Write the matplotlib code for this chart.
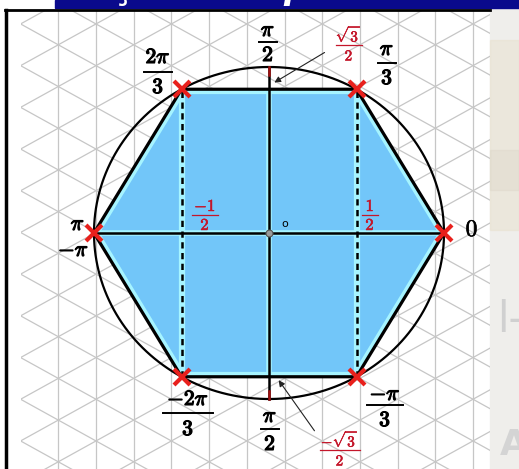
import numpy as np
import matplotlib
matplotlib.use("Agg")
import matplotlib.pyplot as plt
import matplotlib.patheffects as pe
from matplotlib.patches import Rectangle, Polygon

plt.rcParams['mathtext.fontset'] = 'cm'

# --- data: the six points on the unit circle (degrees) ---
angles_deg = [0, 60, 120, 180, 240, 300]
angle_labels = [(r"$0$", None), (r"$\pi$", r"$3$"), (r"$2\pi$", r"$3$"), (r"$\pi$", None),
                (r"$-2\pi$", r"$3$"), (r"$-\pi$", r"$3$")]
dash_x = [-0.5, 0.5]            # cos of 120 / 60 deg
red_labels = [(r"$\sqrt{\mathit{3}}$", r"$\mathit{2}$"), (r"$-\sqrt{\mathit{3}}$", r"$\mathit{2}$"),
              (r"$-\mathit{1}$", r"$\mathit{2}$"), (r"$\mathit{1}$", r"$\mathit{2}$")]

# picture geometry (pixels) - circle a bit squashed in the screenshot
W, H = 519, 469
cx, cy = 269, 233
sx, sy = 175, 166

fig = plt.figure(figsize=(W / 100, H / 100), dpi=100)
bg = fig.add_axes([0, 0, 1, 1])
bg.set_xlim(0, W)
bg.set_ylim(H, 0)
bg.axis('off')

ax = fig.add_axes([0, 0, 1, 1])
ax.set_xlim(-cx / sx, (W - cx) / sx)
ax.set_ylim((cy - H) / sy, cy / sy)
ax.axis('off')
ax.patch.set_alpha(0)

# background bits: blurry right strip, banner, border
bg.add_patch(Rectangle((490, 8), W - 490, H, color='#efeeeb', zorder=1))
bg.add_patch(Rectangle((490, 40), W - 490, 190, color='#e8e1cf', alpha=0.5, zorder=1))
bg.add_patch(Rectangle((490, 150), W - 490, 40, color='#dcd6c8', alpha=0.4, zorder=1))
bg.text(497, 320, "l-", color='#d0d0d0', fontsize=30, va='center', zorder=2)
bg.text(500, 445, "A", color='#d4d4d4', fontsize=26, fontweight='bold', va='center', zorder=2)
bg.add_patch(Rectangle((55, 0), W - 55, 8, color='#0a0a8c', zorder=3))
for xx, word, ha in [(180, "Rota\u00e7\u00e3o", 'right'), (283, "per\u00edodo", 'left'),
                     (478, "trigonom\u00e9trico", 'left')]:
    bg.text(xx, -1, word, color='white', fontsize=24, fontweight='bold', style='italic',
            ha=ha, va='baseline', zorder=4, clip_on=True)
bg.plot([6, 6], [10, H], color='black', lw=2.5, zorder=5)
bg.plot([5, 490], [10, 10], color='black', lw=2, zorder=5)

# isometric grid
grid_box = Rectangle((21, 11), 469, H, transform=bg.transData)
x0, step, hstep = 58.3, 37.7, 41.7
slope = hstep / 2 / step
vlines = [x0 + step * k for k in range(-1, 12) if 21 < x0 + step * k < 490]
diag_y0 = [3.1 + hstep * n for n in range(-20, 25)]


def draw_grid(target, color, lw, clip):
    segs = []
    for xv in vlines:
        segs.append(([xv, xv], [0, H]))
    for y0 in diag_y0:
        segs.append(([0, W], [y0 + slope * (0 - x0), y0 + slope * (W - x0)]))
        segs.append(([0, W], [y0 - slope * (0 - x0), y0 - slope * (W - x0)]))
    for xs_, ys_ in segs:
        ln, = target.plot(xs_, ys_, color=color, lw=lw, transform=bg.transData, zorder=1)
        ln.set_clip_path(clip)


draw_grid(bg, '#c6c6c6', 0.9, grid_box)

# circle and hexagon
t = np.radians(angles_deg)
hx, hy = np.cos(t), np.sin(t)
hexagon = Polygon(np.column_stack([hx, hy]), closed=True, facecolor='#72c6f9',
                  edgecolor='none', zorder=2)
ax.add_patch(hexagon)
clip_hex = Polygon(np.column_stack([hx, hy]), closed=True, transform=ax.transData)
draw_grid(ax, '#50aaec', 0.8, clip_hex)

# cyan glow inside the hexagon
glow = '#a6f4ff'
ln, = ax.plot(np.append(hx, hx[0]), np.append(hy, hy[0]), color=glow, lw=7, zorder=3)
ln.set_clip_path(clip_hex)
for xd in dash_x:
    ax.plot([xd, xd], [-np.sin(np.pi / 3), np.sin(np.pi / 3)], color=glow, lw=4.5, zorder=3)
ln, = ax.plot([0, 0], [-1, 1], color=glow, lw=4, zorder=3)
ln.set_clip_path(clip_hex)
ln, = ax.plot([-1, 1], [0, 0], color=glow, lw=4, zorder=3)
ln.set_clip_path(clip_hex)

th = np.linspace(0, 2 * np.pi, 400)
ax.plot(np.cos(th), np.sin(th), color='black', lw=1.6, zorder=4)
ax.plot(np.append(hx, hx[0]), np.append(hy, hy[0]), color='black', lw=2.3, zorder=5)
for xd in dash_x:
    ax.plot([xd, xd], [-np.sin(np.pi / 3), np.sin(np.pi / 3)], color='black', lw=1.8,
            dashes=(2.5, 1.8), zorder=5)
ax.plot([0, 0], [-1, 1], color='black', lw=1.8, zorder=5)
ax.plot([-1, 1], [0, 0], color='black', lw=1.8, zorder=5)
ax.plot([0, 0], [0.95, 1.0], color='#a01010', lw=1.8, zorder=6)
ax.plot([0, 0], [-1.0, -0.95], color='#a01010', lw=1.8, zorder=6)
ax.plot(hx, hy, 'x', color='#e8201c', ms=12, mew=3, zorder=7)
ax.plot([0], [0], 'o', ms=5, mfc='#9a9a9a', mec='#555555', mew=0.8, zorder=7)
ax.text(285, 224, "o", transform=bg.transData, fontsize=8, ha='center', va='center', zorder=8)

# arrows to +-sqrt(3)/2
ax.annotate("", xy=(0.017, 0.898), xytext=(0.331, 1.096),
            arrowprops=dict(arrowstyle='-|>', lw=0.8, color='#222222', mutation_scale=9), zorder=8)
ax.annotate("", xy=(0.046, -0.873), xytext=(0.269, -1.205),
            arrowprops=dict(arrowstyle='-|>', lw=0.8, color='#222222', mutation_scale=9), zorder=8)

bold = [pe.withStroke(linewidth=0.9, foreground='black')]


def frac(x, y_num, y_bar, y_den, half, num, den, size=15.5, color='black', effects=bold,
         bar_lw=1.4):
    kw = dict(transform=bg.transData, ha='center', va='center', fontsize=size, color=color,
              zorder=9)
    ax.text(x, y_num, num, path_effects=effects, **kw)
    ax.text(x, y_den, den, path_effects=effects, **kw)
    ax.plot([x - half, x + half], [y_bar, y_bar], color=color, lw=bar_lw,
            transform=bg.transData, zorder=9)


# black angle labels
frac(268, 30, 42, 55, 9, r"$\pi$", r"$2$")
frac(158, 57, 72, 87, 14, angle_labels[2][0], angle_labels[2][1])
frac(387, 49, 63, 78, 9, angle_labels[1][0], angle_labels[1][1])
frac(188, 399, 413, 429, 25, angle_labels[4][0], angle_labels[4][1])
frac(270, 416, 429, 444, 9, r"$\pi$", r"$2$")
frac(385, 394, 405, 420, 18, angle_labels[5][0], angle_labels[5][1])
lab = dict(transform=bg.transData, va='center', fontsize=15.5, zorder=9)
ax.text(85, 224, angle_labels[3][0], ha='right', path_effects=bold, **lab)
ax.text(89, 250, angle_labels[5][0], ha='right', path_effects=bold, **lab)
ax.text(472, 229, angle_labels[0][0], ha='center', fontsize=17, transform=bg.transData,
        va='center', zorder=9, path_effects=[pe.withStroke(linewidth=0.4, foreground='black')])

# red value labels
red = '#c4162a'
red_fx = [pe.withStroke(linewidth=0.4, foreground=red)]
frac(349, 33, 45, 56, 13, red_labels[0][0], red_labels[0][1], size=11, color=red,
     effects=red_fx, bar_lw=0.9)
frac(340, 438, 450, 461, 20, red_labels[1][0], red_labels[1][1], size=11, color=red,
     effects=red_fx, bar_lw=0.9)
frac(205, 206, 215, 225, 13, red_labels[2][0], red_labels[2][1], size=12, color=red,
     effects=red_fx, bar_lw=0.9)
frac(370, 206, 215, 225, 8, red_labels[3][0], red_labels[3][1], size=12, color=red,
     effects=red_fx, bar_lw=0.9)

fig.savefig("out.png", dpi=100)
